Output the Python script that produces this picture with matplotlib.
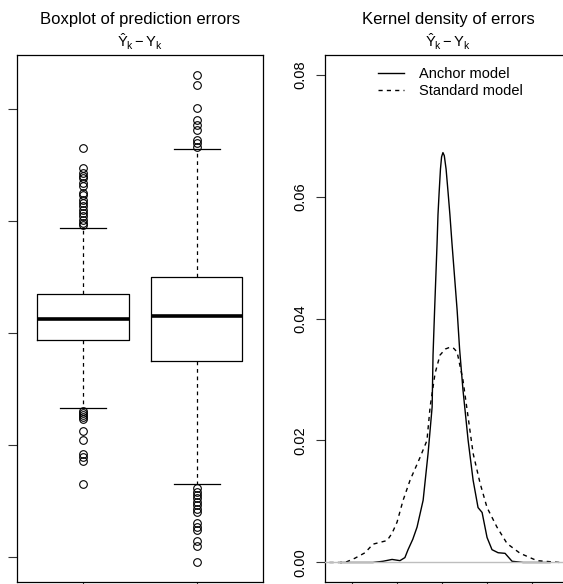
import numpy as np
import matplotlib
matplotlib.use("Agg")
import matplotlib.pyplot as plt

plt.rcParams['font.family'] = ['Liberation Sans', 'DejaVu Sans']
plt.rcParams['mathtext.fontset'] = 'custom'
plt.rcParams['mathtext.rm'] = 'Liberation Sans'
plt.rcParams['mathtext.it'] = 'Liberation Sans'
plt.rcParams['mathtext.bf'] = 'Liberation Sans:bold'

# boxplot summary
box_names = ["Anchor model", "Standard model"]
box_med = [2.5, 3.0]
box_q1 = [-1.25, -5.0]
box_q3 = [6.95, 10.0]
box_whislo = [-13.4, -27.0]
box_whishi = [18.75, 32.9]
fliers_anchor = [33.0, 29.5, 28.5, 28.0, 27.6, 26.7, 26.2, 24.9, 24.6, 23.75, 23.2,
                 22.6, 22.0, 21.4, 20.8, 20.2, 19.6, 19.2,
                 -13.9, -14.2, -14.6, -15.05, -15.4, -17.45, -19.1, -21.5, -22.1,
                 -22.9, -27.0]
fliers_standard = [46.1, 44.2, 40.1, 38.0, 37.1, 36.25, 34.5, 33.9, 33.2,
                   -27.7, -28.3, -28.9, -29.5, -30.1, -30.7, -31.3, -31.9, -33.9,
                   -34.6, -35.2, -37.0, -37.9, -40.9]

# kernel density curves
anchor_x = [-45, -30.7, -26.2, -22.2, -18.7, -16.5, -15.1, -13.0, -11.1, -8.4, -6.2,
            -4.4, -4.0, -3.3, -2.2, -1.8, -1.3, -0.7, -0.2, 0.4, 1.0, 1.8, 2.7, 3.5,
            4.4, 6.7, 7.8, 9.3, 11.6, 13.8, 16.0, 17.8, 20.0, 22.2, 24.9, 28.0, 31.1,
            36.0, 48]
anchor_y = [0, 0, 0.0002, 0.0005, 0.0003, 0.0008, 0.0021, 0.0038, 0.0058, 0.0102,
            0.0179, 0.0255, 0.0340, 0.0414, 0.0524, 0.0570, 0.0606, 0.0645, 0.0665,
            0.0672, 0.0667, 0.0645, 0.0606, 0.0570, 0.0524, 0.0414, 0.0350, 0.0283,
            0.0200, 0.0135, 0.0090, 0.0082, 0.0041, 0.0021, 0.0016, 0.0015, 0.0002,
            0, 0]
std_x = [-50, -47.6, -43.1, -38.7, -34.2, -30.7, -24.4, -22.2, -20.0, -17.3, -14.2,
         -9.8, -6.7, -5.3, -3.1, -0.9, 1.5, 3.6, 5.2, 6.7, 9.3, 11.6, 13.8, 16.9,
         20.0, 24.4, 28.9, 34.7, 42.2, 52.4, 55]
std_y = [0, 0, 0.0, 0.0007, 0.0016, 0.0030, 0.0036, 0.0048, 0.0066, 0.0102, 0.0135,
         0.0172, 0.0200, 0.0255, 0.0310, 0.0340, 0.0350, 0.0353, 0.0351, 0.0345,
         0.0299, 0.0238, 0.0179, 0.0130, 0.0090, 0.0058, 0.0031, 0.0015, 0.0003, 0, 0]

dens_ticks = [0.00, 0.02, 0.04, 0.06, 0.08]
err_ticks = [-40, -20, 0, 20, 40]

W, H = 563, 584
fig = plt.figure(figsize=(W / 100, H / 100), dpi=100)

def px_axes(x0, x1, ytop, ybot):
    return fig.add_axes([x0 / W, (H - ybot) / H, (x1 - x0) / W, (ybot - ytop) / H])

ax1 = px_axes(17, 263, 55, 582)
ax2 = px_axes(325, 571, 55, 582)

for ax in (ax1, ax2):
    for s in ax.spines.values():
        s.set_linewidth(0.9)
        s.set_color('black')
    ax.tick_params(direction='out', length=6.5, width=0.8, color='#333333',
                   labelsize=10.5)

# ---- left: boxplot
stats = []
for i in range(2):
    fl = fliers_anchor if i == 0 else fliers_standard
    stats.append(dict(med=box_med[i], q1=box_q1[i], q3=box_q3[i],
                      whislo=box_whislo[i], whishi=box_whishi[i],
                      fliers=fl, label=box_names[i]))
ax1.bxp(stats, positions=[1, 2], widths=0.8, capwidths=0.4, showfliers=True,
        boxprops=dict(color='black', lw=0.9),
        medianprops=dict(color='black', lw=2.6, solid_capstyle='butt'),
        whiskerprops=dict(color='black', lw=0.9, linestyle=(0, (3, 3))),
        capprops=dict(color='black', lw=0.9),
        flierprops=dict(marker='o', markersize=5.5, markerfacecolor='none',
                        markeredgecolor='black', markeredgewidth=0.8))
ax1.set_xlim(0.42, 2.58)
ax1.set_ylim(-44.4, 49.6)
ax1.set_yticks(err_ticks)
ax1.set_xticks([1, 2])
ax1.tick_params(labelleft=False, labelbottom=False)

# ---- right: kernel densities
ax2.plot(anchor_x, anchor_y, color='black', lw=1.0, label='Anchor model')
ax2.plot(std_x, std_y, color='black', lw=1.0, linestyle=(0, (3, 3)),
         label='Standard model')
ax2.axhline(0, color='#BEBEBE', lw=1.0, zorder=3)
ax2.set_xlim(-52, 57.3)
ax2.set_ylim(-0.0032, 0.0832)
ax2.set_yticks(dens_ticks)
ax2.set_yticklabels(['%.2f' % v for v in dens_ticks], rotation=90, va='center')
ax2.set_xticks(err_ticks)
ax2.tick_params(labelbottom=False)
ax2.tick_params(axis='y', pad=6)
ax2.legend(loc='upper center', bbox_to_anchor=(0.51, 0.993), frameon=False,
           fontsize=10.5, handlelength=1.8, handletextpad=1.0, labelspacing=0.2,
           borderaxespad=0.2)

for ax, title in ((ax1, "Boxplot of prediction errors"), (ax2, "Kernel density of errors")):
    ax.annotate(title, xy=(0.5, 1), xycoords='axes fraction', xytext=(0, 22),
                textcoords='offset points', ha='center', va='baseline', fontsize=12)
    ax.annotate(r"$\hat{Y}_k - Y_k$", xy=(0.5, 1), xycoords='axes fraction',
                xytext=(0, 5.5), textcoords='offset points', ha='center',
                va='baseline', fontsize=10.5)

fig.savefig("out.png", dpi=100)
